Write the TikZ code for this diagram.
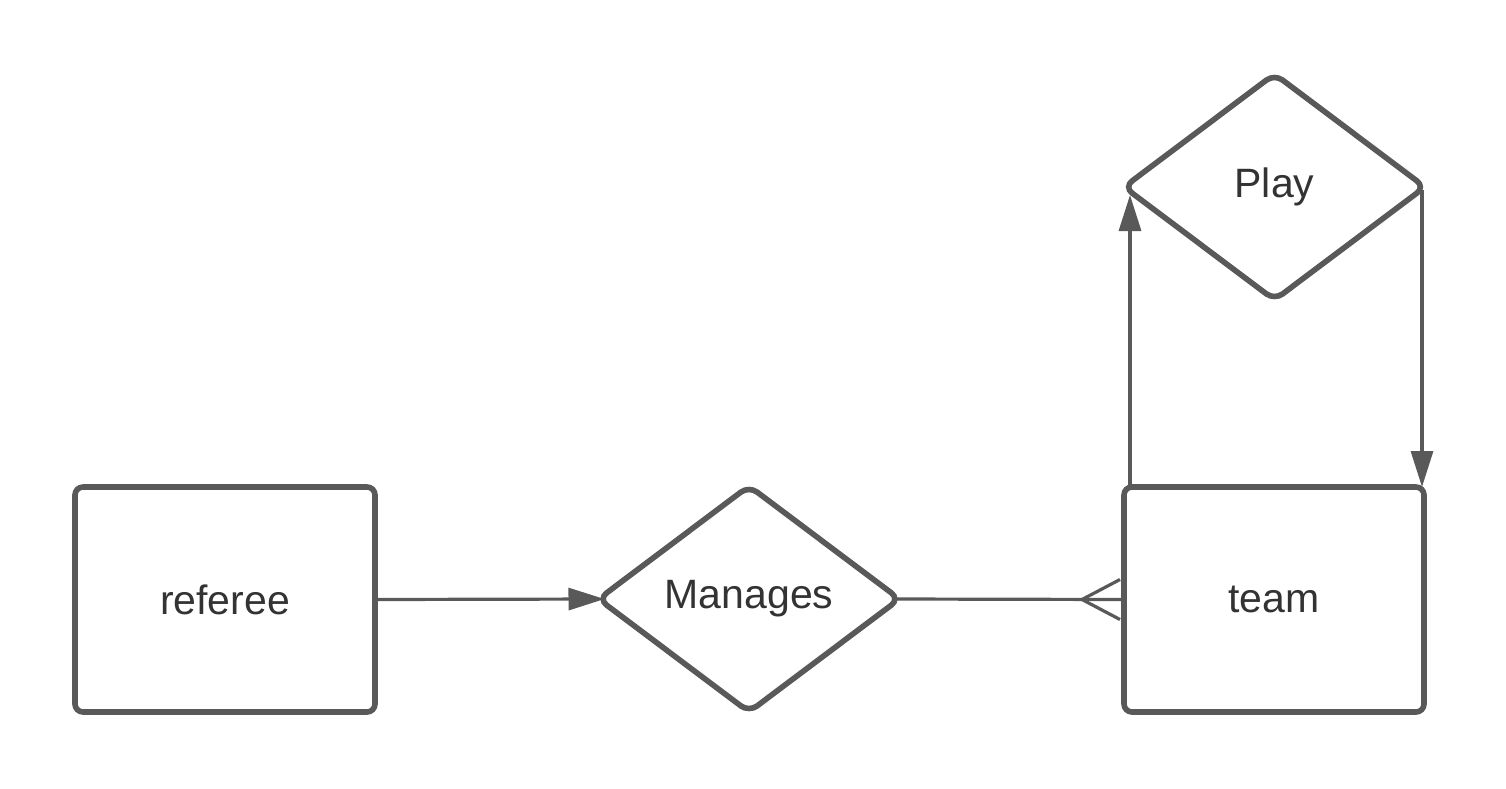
\documentclass[tikz,border=0pt]{standalone}
\usepackage{fontspec}
\setmainfont{Liberation Sans}
\usetikzlibrary{shapes.geometric,arrows.meta}
\definecolor{linegray}{RGB}{89,89,89}
\definecolor{textgray}{RGB}{51,51,51}
\begin{document}
\begin{tikzpicture}
  [x=0.5pt,y=-0.5pt,
   every node/.style={draw=linegray,line width=2.8pt,text=textgray,inner sep=0pt,outer sep=0pt,
     font=\fontsize{20.5}{24}\selectfont},
   entity/.style={rectangle,rounded corners=4pt,minimum width=150pt,minimum height=112.5pt},
   relation/.style={diamond,rounded corners=5pt,minimum width=150.5pt,minimum height=113pt},
   conn/.style={draw=linegray,line width=1.6pt},
   arr/.style={conn,-{Triangle[length=18pt,width=11pt]}}]

  \useasboundingbox (0,0) rectangle (1506,788);

  \node[entity] (referee) at (225,599.5) {referee};
  \node[relation] (manages) at (749,599) {Manages};
  \node[entity] (team) at (1274,599.5) {team};
  \node[relation] (play) at (1274.5,187) {Play};

  \draw[arr] (referee.east) -- ([xshift=3pt]manages.west);
  \draw[conn] ([xshift=-3pt]manages.east) -- (team.west);
  \coordinate (foot) at ([xshift=-21pt]team.west);
  \foreach \dy in {-10pt,10pt}
    \draw[conn] (foot) -- ([xshift=-2pt,yshift=\dy]team.west);
  \draw[arr] ([xshift=3pt]team.north west) -- ([xshift=3pt,yshift=-4pt]team.north west |- play.west);
  \draw[arr] ([xshift=-1.5pt,yshift=-1.5pt]play.east) -- ([xshift=-1.5pt]play.east |- team.north);
\end{tikzpicture}
\end{document}
